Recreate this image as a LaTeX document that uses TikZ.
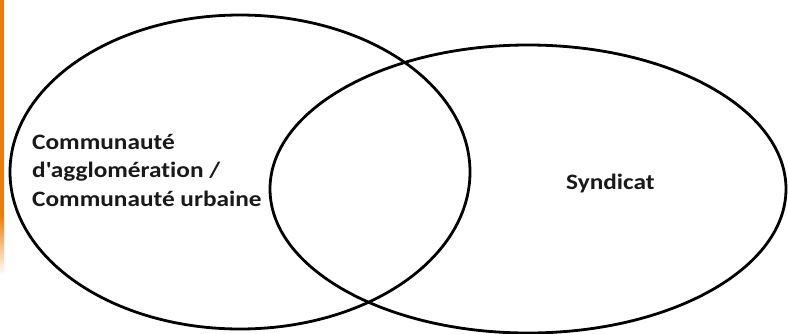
\documentclass[tikz,border=0pt]{standalone}
\usepackage{fontspec}
\newfontfamily\lblfont{Carlito}[FakeStretch=1.15, Ligatures={NoCommon}]
\definecolor{barorange}{HTML}{F07D00}
\begin{document}
\begin{tikzpicture}[x=1pt,y=-1pt,
  venn/.style={draw=black,line width=2.8pt},
  lbl/.style={font=\lblfont\bfseries\fontsize{22}{28}\selectfont,text=black!90,inner sep=0pt,anchor=base west}]
\useasboundingbox (0,0) rectangle (788,333);
\fill[white] (0,0) rectangle (788,333);
\fill[barorange] (0,0) rectangle (4,215);
\shade[top color=barorange,bottom color=white] (0,215) rectangle (4,275);
\draw[venn] (240,172) ellipse [x radius=230, y radius=157];
\draw[venn] (528,189) ellipse [x radius=258, y radius=144];
\node[lbl] (ca1) at (32,149) {Communauté};
\node[lbl] (ca2) at (32,177) {d\textquotesingle agglomération /};
\node[lbl] (ca3) at (32,206) {Communauté urbaine};
\node[lbl] (sy) at (566,189) {Syndicat};
\end{tikzpicture}
\end{document}
